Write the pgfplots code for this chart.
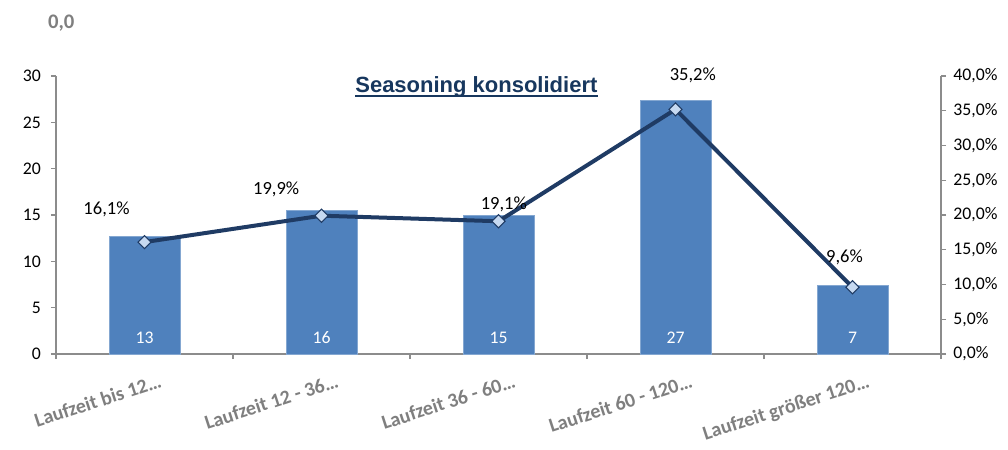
\documentclass[border=0pt]{standalone}
\usepackage{pgfplots}
\pgfplotsset{compat=1.18}
\usepackage{pgfplotstable}
\usepackage{fontspec}
\setmainfont{Carlito}
\newfontfamily\arialfont{Liberation Sans}

\definecolor{barblue}{HTML}{4F81BD}
\definecolor{navy}{HTML}{1F3B64}
\definecolor{markfill}{HTML}{C6D9F1}
\definecolor{axisgray}{HTML}{8C8C8C}
\definecolor{labelgray}{HTML}{7F7F7F}
\definecolor{titleblue}{HTML}{17375E}

\pgfplotstableread{
x  base  val    lbl
0  0     12.65  13
1  0     15.5   16
2  0     15.0   15
3  0     27.4   27
4  0     7.4    7
}\barsdata

\pgfplotstableread{
x  pct   dx     dy
0  16.1  -28.5  24.75
1  19.9  -34    19.5
2  19.1   4     12.75
3  35.2   13    25.5
4  9.6   -6     22.5
}\pctdata

\newcommand{\tickfont}{\fontsize{13.3}{16}\selectfont}

\begin{document}
\begin{tikzpicture}
\begin{axis}[
    name=main,
    scale only axis,
    width=663.75pt, height=208.5pt,
    xmin=-0.5, xmax=4.5,
    ymin=0, ymax=30,
    xtick={-0.5,0.5,1.5,2.5,3.5,4.5},
    x tick label as interval,
    xticklabels={Laufzeit bis 12…,Laufzeit 12 - 36…,Laufzeit 36 - 60…,Laufzeit 60 - 120…,Laufzeit größer 120…},
    ytick={0,5,...,30},
    axis x line*=bottom,
    axis y line*=left,
    x axis line style={-}, y axis line style={-},
    axis line style={draw=axisgray, line width=0.8pt},
    tick style={draw=axisgray, line width=0.8pt},
    tick align=outside,
    major tick length=3.75pt,
    xticklabel style={rotate=18, anchor=north east, xshift=10pt, yshift=-10pt,
        font=\fontsize{15}{17}\selectfont\bfseries, text=labelgray},
    yticklabel style={font=\tickfont, xshift=-4pt},
    /pgf/number format/assume math mode=true,
    clip=false,
]
\addplot[ybar, bar width=0.40, fill=barblue, draw=barblue!70!white, line width=0.5pt]
    table[x=x, y=val] {\barsdata};
\addplot[draw=none, mark=none, nodes near coords, point meta=explicit symbolic,
    every node near coord/.style={anchor=center, yshift=12pt, text=white, font=\tickfont}]
    table[x=x, y=base, meta=lbl] {\barsdata};
\node[anchor=base, inner sep=0pt, text=titleblue, font=\arialfont\fontsize{16.5}{19}\selectfont\bfseries]
    (title) at (rel axis cs:0.475,0.942) {Seasoning konsolidiert};
\draw[titleblue, line width=1.5pt] ([yshift=-2.6pt]title.base west) -- ([yshift=-2.6pt]title.base east);
\node[text=labelgray, font=\fontsize{15.5}{18}\selectfont\bfseries] at (rel axis cs:0.006,1.19) {0,0};
\end{axis}

\begin{axis}[
    scale only axis,
    width=663.75pt, height=208.5pt,
    xmin=-0.5, xmax=4.5,
    ymin=0, ymax=40,
    axis x line=none,
    axis y line*=right,
    y axis line style={-},
    axis line style={draw=axisgray, line width=0.8pt},
    tick style={draw=axisgray, line width=0.8pt},
    tick align=outside,
    major tick length=3.75pt,
    ytick={0,5,...,40},
    yticklabel={\pgfmathprintnumber[fixed, fixed zerofill, precision=1, use comma]{\tick}\%},
    yticklabel style={font=\tickfont, xshift=2pt},
    /pgf/number format/assume math mode=true,
    clip=false,
]
\addplot[navy, line width=3pt, mark=square*,
    mark options={rotate=45, fill=markfill, draw=navy, line width=0.8pt}, mark size=3.5pt,
    nodes near coords={\pgfmathprintnumber[fixed, fixed zerofill, precision=1, use comma]{\pgfplotspointmeta}\%},
    point meta=y,
    visualization depends on={\thisrow{dx} \as \ddx},
    visualization depends on={\thisrow{dy} \as \ddy},
    every node near coord/.style={anchor=center, xshift=\ddx pt, yshift=\ddy pt, text=black, font=\fontsize{13.9}{16}\selectfont}]
    table[x=x, y=pct] {\pctdata};
\end{axis}
\pgfresetboundingbox
\useasboundingbox ([shift={(-42pt,-72pt)}]main.south west) rectangle ++(756pt,337.5pt);
\end{tikzpicture}
\end{document}
